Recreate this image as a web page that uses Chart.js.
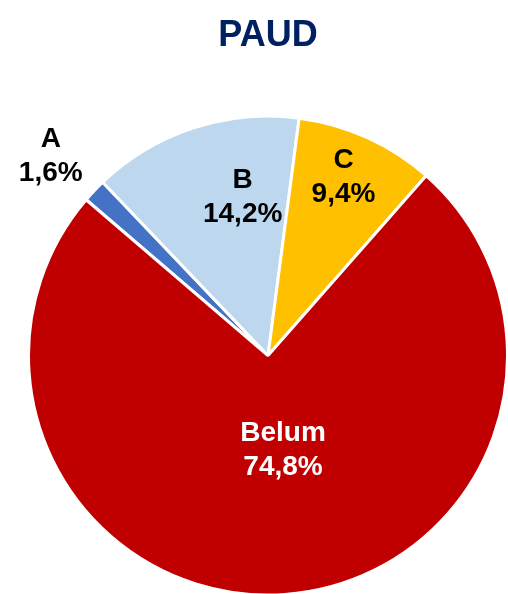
<!DOCTYPE html>
<html>
<head>
<meta charset="utf-8">
<script src="https://cdn.jsdelivr.net/npm/chart.js@4/dist/chart.umd.min.js"></script>
<style>
  html, body { margin: 0; padding: 0; background: #fff; overflow: hidden; }
  #wrap { position: relative; width: 509px; height: 597px; }
</style>
</head>
<body>
<div id="wrap"><canvas id="GraficoPaud"></canvas></div>
<script>
var kategori = ['A', 'B', 'C', 'Belum'];
var persen = [1.6, 14.2, 9.4, 74.8];
var warna = ['#4472C4', '#BDD7EE', '#FFC000', '#C00000'];
var warnaLabel = ['#000000', '#000000', '#000000', '#FFFFFF'];

// posisi label: faktor jari-jari dan geser sudut (derajat)
var labelPos = [
    { r: 1.23, da: -1 },
    { r: 0.67, da: 9 },
    { r: 0.81, da: -1.5 },
    { r: 0.40, da: -5 }
];

var labelPlugin = {
    id: 'labelPie',
    afterDatasetsDraw: function (chart) {
        var ctx = chart.ctx;
        var meta = chart.getDatasetMeta(0);
        ctx.save();
        ctx.font = 'bold 28px "Liberation Sans", Arial, sans-serif';
        ctx.textAlign = 'center';
        ctx.textBaseline = 'middle';
        meta.data.forEach(function (arc, i) {
            var p = arc.getProps(['x', 'y', 'startAngle', 'endAngle', 'outerRadius'], true);
            var mid = (p.startAngle + p.endAngle) / 2 + labelPos[i].da * Math.PI / 180;
            var rr = p.outerRadius * labelPos[i].r;
            var x = p.x + Math.cos(mid) * rr;
            var y = p.y + Math.sin(mid) * rr;
            ctx.fillStyle = warnaLabel[i];
            ctx.fillText(kategori[i], x, y - 17);
            ctx.fillText(persen[i].toFixed(1).replace('.', ',') + '%', x, y + 17);
        });
        ctx.restore();
    }
};

var ctx = document.getElementById('GraficoPaud').getContext('2d');
var grafico = new Chart(ctx, {
    type: 'pie',
    data: {
        labels: kategori,
        datasets: [
            {
                label: 'PAUD',
                data: persen,
                backgroundColor: warna,
                borderColor: '#FFFFFF',
                borderWidth: 3
            }
        ]
    },
    options: {
        responsive: true,
        maintainAspectRatio: false,
        animation: false,
        rotation: -49.4,
        layout: { padding: { left: 27, right: 0, top: 0, bottom: 0 } },
        plugins: {
            legend: { display: false },
            tooltip: { enabled: false },
            title: {
                display: true,
                text: 'PAUD',
                color: '#002060',
                font: { family: '"Liberation Sans", Arial, sans-serif', size: 36, weight: 'bold' },
                padding: { top: 14, bottom: 57 }
            }
        }
    },
    plugins: [labelPlugin]
});
</script>
</body>
</html>
